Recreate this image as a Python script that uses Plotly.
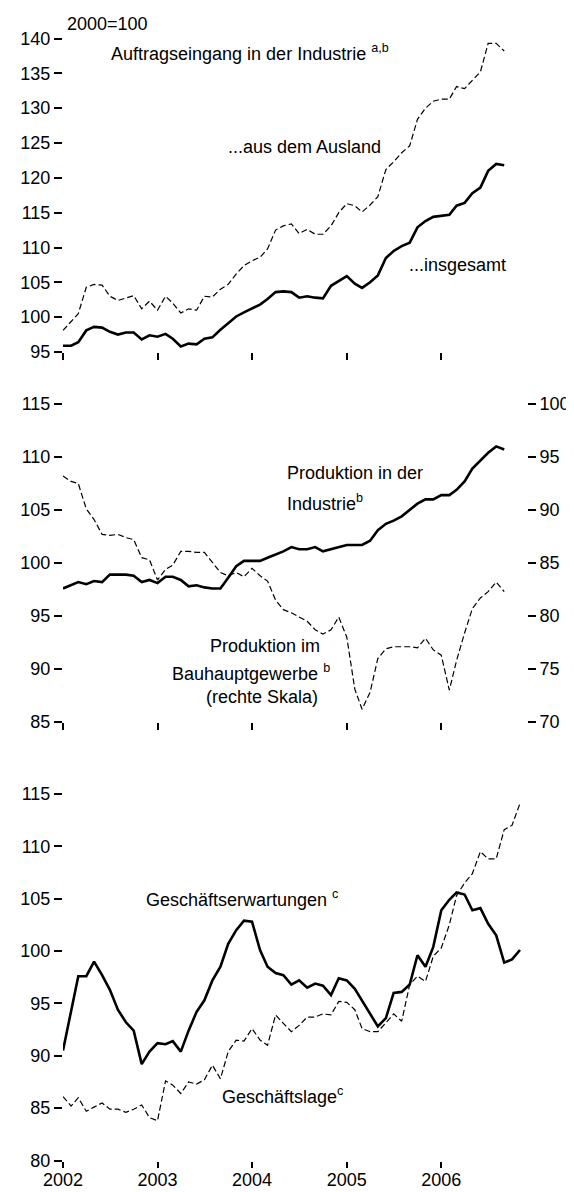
import pandas as pd
import plotly.graph_objects as go

# The page body adds an 8px margin, so the figure is drawn 8px in from the
# top-left corner; size and positions are compensated for that.
PAGE_W, PAGE_H, BODY = 574, 1192, 8
W, H = PAGE_W - BODY, PAGE_H - BODY
FONT = "Liberation Sans, Arial, Helvetica, sans-serif"
FS = 18

# ---------------- data (monthly, starting January 2002) ----------------
start = "2002-01-01"

# Panel 1: Auftragseingang in der Industrie (2000=100)
orders_total = [
    95.9, 95.9, 96.4, 98.1, 98.6, 98.5, 97.9, 97.5, 97.8, 97.8, 96.8, 97.4,
    97.2, 97.6, 96.9, 95.8, 96.2, 96.1, 96.9, 97.1, 98.2, 99.2, 100.1, 100.7,
    101.2, 101.8, 102.6, 103.6, 103.7, 103.6, 102.8, 103.0, 102.8, 102.7, 104.5, 105.2,
    105.9, 104.8, 104.2, 105.0, 106.0, 108.5, 109.5, 110.2, 110.7, 112.9, 113.8, 114.4,
    114.6, 114.7, 116.0, 116.4, 117.8, 118.6, 121.0, 122.0, 121.8,
]
orders_foreign = [
    98.1, 99.3, 100.5, 104.3, 104.7, 104.6, 103.0, 102.4, 102.8, 103.1, 101.2, 102.3,
    101.0, 103.0, 102.0, 100.6, 101.2, 101.0, 103.0, 102.9, 104.0, 104.7, 106.2, 107.4,
    108.1, 108.6, 109.8, 112.5, 113.1, 113.4, 112.0, 112.6, 111.9, 111.9, 113.1, 115.0,
    116.3, 116.0, 115.1, 116.1, 117.3, 121.2, 122.3, 123.6, 124.6, 128.4, 130.0, 131.0,
    131.3, 131.3, 133.1, 132.8, 134.0, 135.2, 139.3, 139.3, 138.2,
]

# Panel 2: Produktion
prod_industry = [
    97.6, 97.9, 98.2, 98.0, 98.3, 98.2, 98.9, 98.9, 98.9, 98.8, 98.2, 98.4,
    98.1, 98.7, 98.7, 98.4, 97.8, 97.9, 97.7, 97.6, 97.6, 98.6, 99.7, 100.2,
    100.2, 100.2, 100.5, 100.8, 101.1, 101.5, 101.3, 101.3, 101.5, 101.1, 101.3, 101.5,
    101.7, 101.7, 101.7, 102.1, 103.1, 103.7, 104.0, 104.4, 105.0, 105.6, 106.0, 106.0,
    106.4, 106.4, 106.9, 107.7, 108.9, 109.7, 110.4, 111.0, 110.7,
]
prod_construction = [
    93.2, 92.7, 92.5, 90.1, 89.1, 87.7, 87.6, 87.7, 87.4, 87.2, 85.5, 85.3,
    83.4, 84.4, 84.8, 86.1, 86.1, 86.0, 86.0, 85.0, 84.1, 83.8, 84.1, 83.7,
    84.5, 83.8, 83.3, 81.5, 80.6, 80.3, 79.9, 79.5, 78.7, 78.3, 78.7, 79.9,
    78.0, 73.1, 71.2, 72.8, 76.0, 76.9, 77.1, 77.1, 77.1, 77.0, 77.9, 76.8,
    76.3, 73.0, 75.8, 78.4, 80.7, 81.7, 82.3, 83.2, 82.3,
]

# Panel 3: Geschäftserwartungen / Geschäftslage
expectations = [
    90.5, 94.2, 97.6, 97.6, 99.0, 97.7, 96.3, 94.4, 93.2, 92.4, 89.2, 90.4,
    91.2, 91.1, 91.4, 90.4, 92.4, 94.2, 95.3, 97.2, 98.5, 100.7, 102.0, 102.9,
    102.8, 100.1, 98.5, 97.9, 97.7, 96.8, 97.2, 96.5, 96.9, 96.7, 95.8, 97.4,
    97.2, 96.4, 95.3, 94.0, 92.8, 93.6, 96.0, 96.1, 96.8, 99.6, 98.5, 100.4,
    103.9, 104.9, 105.6, 105.4, 103.9, 104.1, 102.6, 101.5, 98.9, 99.2, 100.1,
]
situation = [
    86.1, 85.2, 86.0, 84.7, 85.1, 85.5, 84.9, 84.9, 84.6, 84.9, 85.3, 84.1,
    83.8, 87.6, 87.2, 86.4, 87.5, 87.3, 87.7, 89.1, 87.8, 90.4, 91.5, 91.4,
    92.6, 91.5, 91.0, 93.9, 93.1, 92.3, 92.9, 93.7, 93.7, 94.0, 93.9, 95.2,
    95.1, 94.4, 92.6, 92.3, 92.3, 93.2, 94.0, 93.3, 96.8, 97.6, 97.1, 99.5,
    100.3, 102.5, 105.3, 106.5, 107.4, 109.5, 108.8, 108.8, 111.6, 112.0, 114.1,
]

year_ticks = ["2002-01-01", "2003-01-01", "2004-01-01", "2005-01-01", "2006-01-01"]
year_labels = ["2002", "2003", "2004", "2005", "2006"]
x_range = ["2002-01-01", "2006-11-28"]


def months(n):
    return pd.date_range(start, periods=n, freq="MS")


# ---------------- layout helpers (page pixel -> paper) ----------------
def px_x(px):
    return (px - BODY) / W


def px_y(py):
    return 1 - (py - BODY) / H


SOLID = dict(color="black", width=2.6)
DASHED = dict(color="black", width=1.2, dash="6px,3px")

fig = go.Figure()
# panel 1
fig.add_trace(go.Scatter(x=months(len(orders_foreign)), y=orders_foreign, mode="lines",
                         line=DASHED, xaxis="x3", yaxis="y3"))
fig.add_trace(go.Scatter(x=months(len(orders_total)), y=orders_total, mode="lines",
                         line=SOLID, xaxis="x3", yaxis="y3"))
# panel 2
fig.add_trace(go.Scatter(x=months(len(prod_construction)), y=prod_construction, mode="lines",
                         line=DASHED, xaxis="x2", yaxis="y4"))
fig.add_trace(go.Scatter(x=months(len(prod_industry)), y=prod_industry, mode="lines",
                         line=SOLID, xaxis="x2", yaxis="y2"))
# panel 3
fig.add_trace(go.Scatter(x=months(len(situation)), y=situation, mode="lines",
                         line=DASHED, xaxis="x", yaxis="y"))
fig.add_trace(go.Scatter(x=months(len(expectations)), y=expectations, mode="lines",
                         line=SOLID, xaxis="x", yaxis="y"))

tickfont = dict(family=FONT, size=FS, color="black")
xdom = [px_x(63), px_x(527)]

xcommon = dict(domain=xdom, range=x_range, tickvals=year_ticks, ticktext=year_labels,
               ticks="outside", ticklen=7, tickwidth=2, tickcolor="black",
               showline=False, showgrid=False, zeroline=False, automargin=False,
               tickfont=tickfont)
ycommon = dict(ticks="outside", ticklen=8, tickwidth=2, tickcolor="black",
               showline=False, showgrid=False, zeroline=False, automargin=False,
               tickfont=tickfont, dtick=5, tickmode="linear")

fig.update_layout(
    width=W, height=H, autosize=False,
    margin=dict(l=0, r=0, t=0, b=0, pad=0),
    paper_bgcolor="white", plot_bgcolor="white",
    showlegend=False,
    font=dict(family=FONT, size=FS, color="black"),
    # bottom panel (ifo)
    xaxis=dict(**{**xcommon, "ticklen": 6}, anchor="y", showticklabels=True,
               ticklabelstandoff=-3),
    yaxis=dict(**ycommon, domain=[px_y(1160.5), px_y(794)], range=[80, 115], tick0=80,
               anchor="x"),
    # middle panel (Produktion)
    xaxis2=dict(**xcommon, anchor="y2", showticklabels=False),
    yaxis2=dict(**ycommon, domain=[px_y(722), px_y(404)], range=[85, 115], tick0=85,
                anchor="x2"),
    yaxis4=dict(**ycommon, range=[70, 100], tick0=70, overlaying="y2",
                side="right", anchor="x2"),
    # top panel (Auftragseingang)
    xaxis3=dict(**xcommon, anchor="y3", showticklabels=False),
    yaxis3=dict(**ycommon, domain=[px_y(352), px_y(38.5)], range=[95, 140], tick0=95,
                anchor="x3"),
)


def ann(text, px, py, xanchor="left"):
    return dict(text=text, x=px_x(px), y=px_y(py), xref="paper", yref="paper",
                xanchor=xanchor, yanchor="middle", showarrow=False,
                font=dict(family=FONT, size=FS, color="black"))


annotations = [
    ann("2000=100", 65, 24),
    ann("Auftragseingang in der Industrie <sup>a,b</sup>", 109, 52),
    ann("...aus dem Ausland", 383, 147, "right"),
    ann("...insgesamt", 407, 265),
    ann("Produktion in der", 285, 473),
    ann("Industrie<sup>b</sup>", 285, 502),
    ann("Produktion im", 322, 646, "right"),
    ann("Bauhauptgewerbe <sup>b</sup>", 332, 672, "right"),
    ann("(rechte Skala)", 320, 697, "right"),
    ann("Geschäftserwartungen <sup>c</sup>", 144, 898),
    ann("Geschäftslage<sup>c</sup>", 220, 1095),
]
fig.update_layout(annotations=annotations)

fig.write_html("out.html")
